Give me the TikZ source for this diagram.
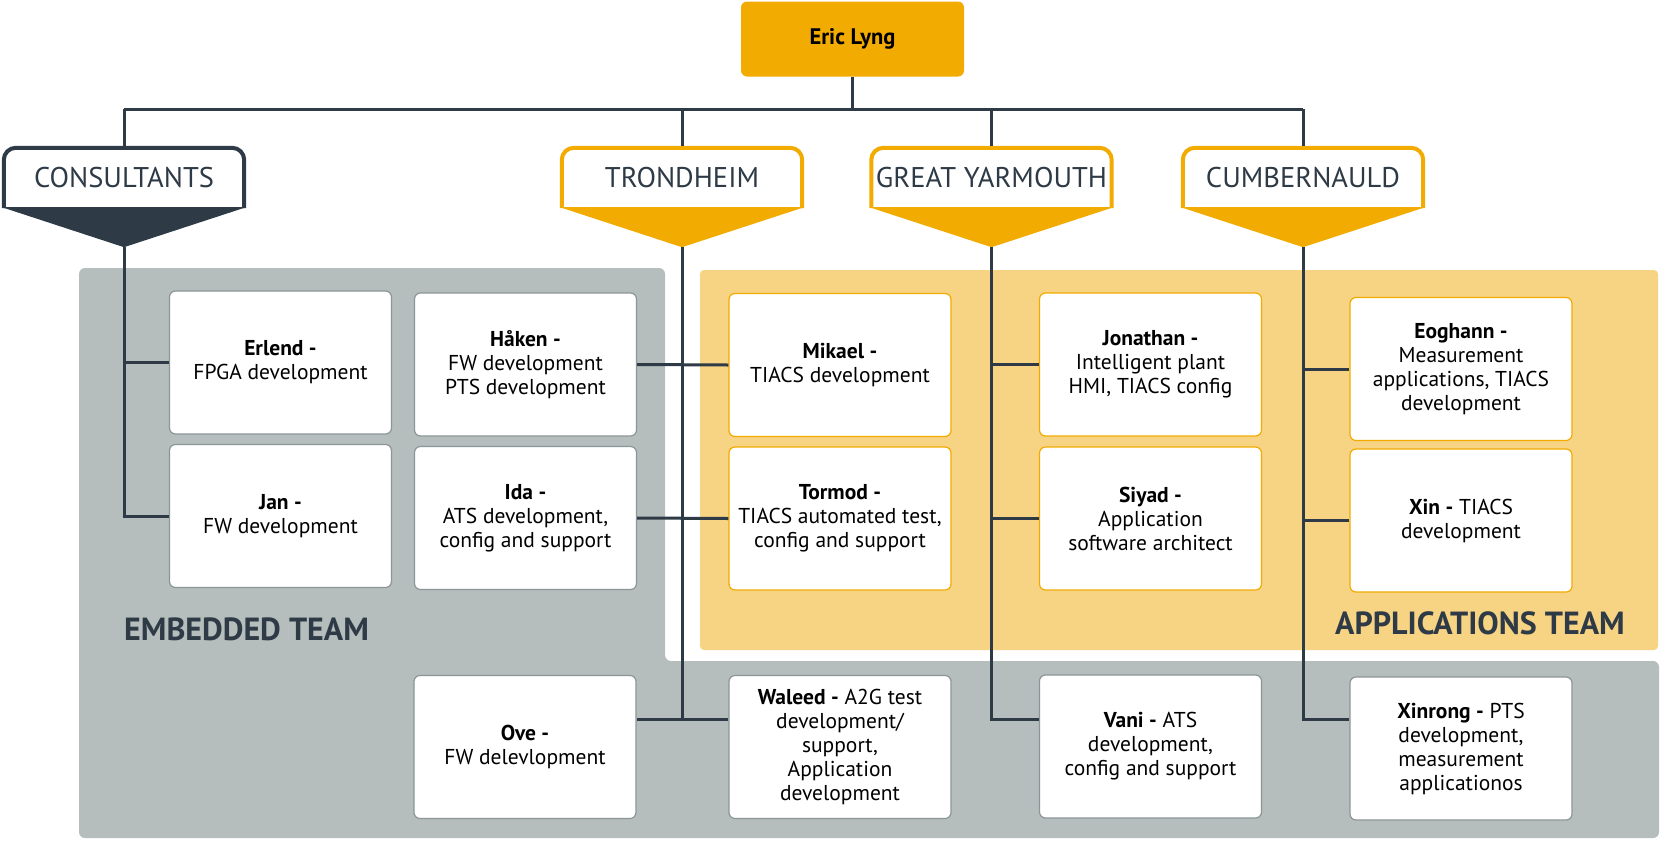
\documentclass[tikz,border=0pt]{standalone}
\usepackage{fontspec}
\setmainfont{PT Sans}
\usepackage{tikz}
\usetikzlibrary{positioning,calc}

\definecolor{slate}{HTML}{2E3A46}
\definecolor{amber}{HTML}{F2AB00}
\definecolor{paleamber}{HTML}{F7D384}
\definecolor{teamgrey}{HTML}{B5BEBC}
\definecolor{edgegrey}{HTML}{8C9597}

\begin{document}
\begin{tikzpicture}[x=1pt,y=-1pt,
  link/.style={draw=slate,line width=3pt},
  person/.style={rectangle,rounded corners=6pt,fill=white,line width=1.2pt,
    minimum width=222pt,minimum height=143pt,align=center,
    font=\fontsize{21.5}{24}\selectfont,inner sep=2pt},
  embperson/.style={person,draw=edgegrey},
  appperson/.style={person,draw=amber},
  banner/.style={rectangle,fill=white,minimum width=240pt,minimum height=60pt,
    text=slate,font=\fontsize{28.5}{30}\selectfont,inner sep=0pt},
  teamlabel/.style={text=slate,font=\fontsize{32}{36}\selectfont\bfseries,
    anchor=base west,inner sep=0pt}]
\useasboundingbox (0,0) rectangle (1661,841);

% Team areas
\fill[teamgrey,rounded corners=6pt] (79,268) -- (665,268) -- (665,661)
  -- (1659,661) -- (1659,838) -- (79,838) -- cycle;
\fill[paleamber,rounded corners=4pt] (700,270) rectangle (1658,650);
\node[teamlabel] (embtxt) at (124,640) {EMBEDDED TEAM};
\node[teamlabel] (apptxt) at (1335,634) {APPLICATIONS TEAM};

% Manager
\node[rectangle,rounded corners=6pt,fill=amber,minimum width=223pt,
  minimum height=75pt,font=\fontsize{22.5}{26}\selectfont\bfseries]
  (eric) at (852.5,39) {Eric Lyng};

% Banners
\node[banner] (consult) at (124,178) {CONSULTANTS};
\node[banner] (trond) at (682,178) {TRONDHEIM};
\node[banner] (yarm) at (991.5,178) {GREAT YARMOUTH};
\node[banner] (cumb) at (1303,178) {CUMBERNAULD};

% Tips of the banners
\foreach \b in {consult,trond,yarm,cumb}
  \coordinate (\b tip) at ($(\b.south)+(0,39)$);

% Banner outlines
\foreach \b/\c in {consult/slate,trond/amber,yarm/amber,cumb/amber}{
  \draw[\c,line width=4pt,rounded corners=12pt]
    (\b.south west) -- (\b.north west) -- (\b.north east) -- (\b.south east);
  \fill[\c] ($(\b.south west)+(-2,-1)$) -- ($(\b.south east)+(2,-1)$)
    -- (\b tip) -- cycle;
}

% Ends of the branch lines
\coordinate (topbar) at (0,109);
\coordinate (lowrow) at (0,719);

% People - embedded
\node[embperson] (erlend) at (280.5,362.5) {\textbf{Erlend -}\\FPGA development};
\node[embperson] (jan) at (280.5,516) {\textbf{Jan -}\\FW development};
\node[embperson] (haken) at (525.5,364.5) {\textbf{Håken -}\\FW development\\PTS development};
\node[embperson] (ida) at (525.5,518) {\textbf{Ida -}\\ATS development,\\config and support};
\node[embperson] (ove) at (525,747) {\textbf{Ove -}\\FW delevlopment};
\node[embperson] (waleed) at (840,747) {\textbf{Waleed -} A2G test\\development/\\support,\\Application\\development};
\node[embperson] (vani) at (1150.5,746.5) {\textbf{Vani -} ATS\\development,\\config and support};
\node[embperson] (xinrong) at (1461,748.5) {\textbf{Xinrong -} PTS\\development,\\measurement\\applicationos};

% People - applications
\node[appperson] (mikael) at (840,365) {\textbf{Mikael -}\\TIACS development};
\node[appperson] (tormod) at (840,518.5) {\textbf{Tormod -}\\TIACS automated test,\\config and support};
\node[appperson] (jonathan) at (1150.5,364.5) {\textbf{Jonathan -}\\Intelligent plant\\HMI, TIACS config};
\node[appperson] (siyad) at (1150.5,518.5) {\textbf{Siyad -}\\Application\\software architect};
\node[appperson] (eoghann) at (1461,369) {\textbf{Eoghann -}\\Measurement\\applications, TIACS\\development};
\node[appperson] (xin) at (1461,520.5) {\textbf{Xin -} TIACS\\development};

% Reporting lines
\draw[link] (eric.south) -- (eric.south |- topbar);
\draw[link] (consult.north |- topbar) -- (cumb.north |- topbar);
\foreach \b in {consult,trond,yarm,cumb}
  \draw[link] (\b.north |- topbar) -- ($(\b.north)+(0,-2)$);
% Consultants
\draw[link] (consulttip) |- (jan.west);
\draw[link] (consulttip |- erlend.west) -- (erlend.west);
% Trondheim
\draw[link] (trondtip) -- (trondtip |- lowrow);
\draw[link] (haken.east) -- (mikael.west);
\draw[link] (ida.east) -- (tormod.west);
\draw[link] (ove.east |- lowrow) -- (waleed.west |- lowrow);
% Great Yarmouth
\draw[link] (yarmtip) |- (vani.west |- lowrow);
\draw[link] (yarmtip |- jonathan.west) -- (jonathan.west);
\draw[link] (yarmtip |- siyad.west) -- (siyad.west);
% Cumbernauld
\draw[link] (cumbtip) |- (xinrong.west |- lowrow);
\draw[link] (cumbtip |- eoghann.west) -- (eoghann.west);
\draw[link] (cumbtip |- xin.west) -- (xin.west);
\end{tikzpicture}
\end{document}
